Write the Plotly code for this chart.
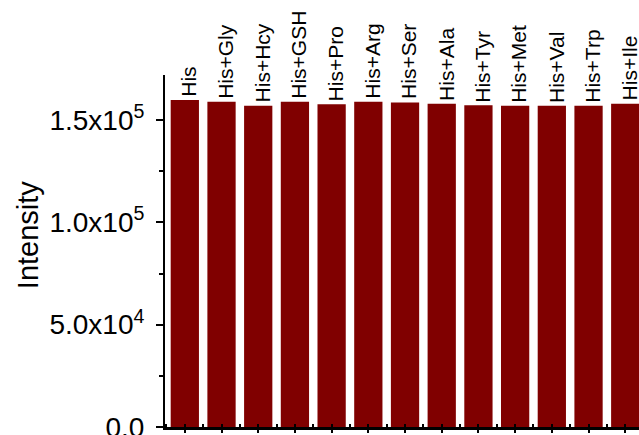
import plotly.graph_objects as go

categories = ["His", "His+Gly", "His+Hcy", "His+GSH", "His+Pro", "His+Arg", "His+Ser",
              "His+Ala", "His+Tyr", "His+Met", "His+Val", "His+Trp", "His+Ile"]
intensity = [1.598e5, 1.589e5, 1.570e5, 1.589e5, 1.577e5, 1.589e5, 1.586e5,
             1.580e5, 1.572e5, 1.570e5, 1.570e5, 1.570e5, 1.580e5]
ytick_vals = [0, 5e4, 1e5, 1.5e5]
ytick_text = ["0.0", "5.0x10<sup>4</sup>", "1.0x10<sup>5</sup>", "1.5x10<sup>5</sup>"]
y_title = "Intensity"

FONT = "Arial, Liberation Sans, sans-serif"
xpos = list(range(len(categories)))

fig = go.Figure()
fig.add_trace(go.Bar(
    x=xpos, y=intensity,
    marker=dict(color="#800000", line=dict(width=0)),
    hovertext=categories,
))

for xi, (cat, val) in enumerate(zip(categories, intensity)):
    fig.add_annotation(
        x=xi, y=val, text=cat, textangle=-90, showarrow=False,
        xanchor="center", yanchor="bottom", xshift=4, yshift=1,
        font=dict(family=FONT, size=21, color="black"),
    )

fig.add_annotation(
    xref="paper", yref="paper", x=-0.289, y=0.545, text=y_title, textangle=-90,
    showarrow=False, xanchor="center", yanchor="middle",
    font=dict(family=FONT, size=29, color="black"),
)

fig.update_layout(
    width=639, height=435,
    margin=dict(l=165, r=0, t=75, b=8, autoexpand=False),
    paper_bgcolor="white", plot_bgcolor="white",
    bargap=0.23,
    showlegend=False,
    font=dict(family=FONT, color="black"),
    xaxis=dict(
        range=[-0.54, 12.375], showgrid=False, zeroline=False, automargin=False,
        showline=True, linecolor="black", linewidth=2.5,
        tickmode="linear", tick0=0, dtick=1,
        ticks="outside", ticklen=3, tickwidth=1.5, tickcolor="black",
        showticklabels=False,
        minor=dict(ticks="inside", dtick=0.5, tick0=0.5, ticklen=3,
                   tickwidth=2, tickcolor="black"),
    ),
    yaxis=dict(
        range=[0, 1.72e5], showgrid=False, zeroline=False, automargin=False,
        showline=True, linecolor="black", linewidth=2,
        tickvals=ytick_vals, ticktext=ytick_text,
        ticks="outside", ticklen=7, tickwidth=2, tickcolor="black",
        tickfont=dict(family=FONT, size=28, color="black"),
        ticklabelstandoff=6, ticklabeloverflow="allow",
        minor=dict(ticks="outside", dtick=2.5e4, tick0=0, ticklen=4,
                   tickwidth=2, tickcolor="black"),
    ),
)

fig.write_html(
    "out.html",
    config={"displayModeBar": False},
    post_script="document.body.style.margin='0';document.body.style.padding='0';"
                "document.body.style.overflow='hidden';",
)
